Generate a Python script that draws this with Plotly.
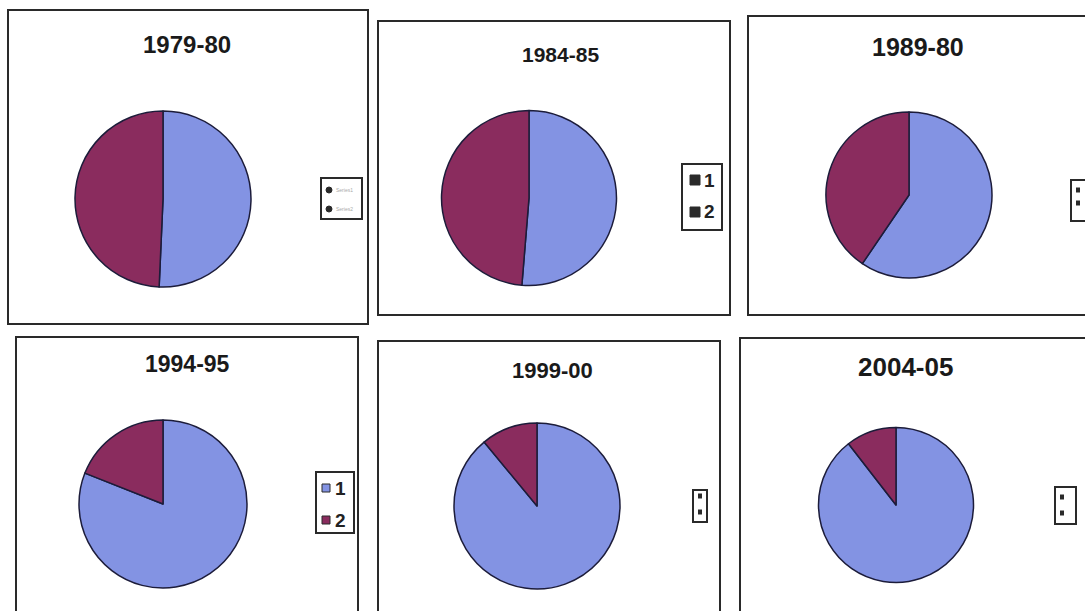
import plotly.graph_objects as go

W, H = 1085, 611

# ---- data ----
years = ["1979-80", "1984-85", "1989-90", "1994-95", "1999-00", "2004-05"]
title_text = ["1979-80", "1984-85", "1989-80", "1994-95", "1999-00", "2004-05"]
labels = ["1", "2"]
series1 = [50.7, 51.3, 59.5, 81.0, 89.0, 89.5]
series2 = [49.3, 48.7, 40.5, 19.0, 11.0, 10.5]

# ---- layout constants (pixels) ----
pie_centers = [(163, 199), (529, 198), (909, 195), (163, 504), (537, 506), (896, 505)]
pie_diams = [176, 175, 166, 168, 166, 155]
title_pos = [(187, 44), (560, 54), (918, 47), (187, 364), (552, 370), (905, 367)]
title_size = [24, 21, 25, 23, 22, 26]
panels = [(8, 10, 368, 324), (378, 21, 730, 315), (748, 16, 1092, 315),
          (16, 337, 358, 620), (378, 341, 720, 620), (740, 338, 1092, 620)]
# legend boxes (x0, y0, x1, y1), key style, item rows
legend_boxes = [(321, 178, 362, 219), (682, 164, 722, 230), (1071, 180, 1092, 221),
                (316, 472, 354, 533), (693, 490, 707, 522), (1055, 487, 1076, 524)]
legend_style = ["tiny", "big", "dots", "big", "dots", "dots"]
legend_rows = [(190, 209), (180, 212), (190, 203), (488, 520), (496, 512), (497, 513)]
legend_keyx = [329, 695, 1078, 326, 700, 1062]

BLUE = "#8393E3"
MAROON = "#8A2C5E"
EDGE = "#1c1c3a"
DARK = "#2a2a2a"

def px(x):
    return x / W

def py(y):
    return 1 - y / H

fig = go.Figure()
for i, yr in enumerate(years):
    cx, cy = pie_centers[i]
    r = pie_diams[i] / 2
    fig.add_trace(go.Pie(
        labels=labels,
        values=[series1[i], series2[i]],
        name=yr,
        sort=False,
        direction="clockwise",
        rotation=0,
        textinfo="none",
        hoverinfo="label+percent",
        showlegend=False,
        marker=dict(colors=[BLUE, MAROON], line=dict(color=EDGE, width=1.5)),
        domain=dict(x=[px(cx - r), px(cx + r)], y=[py(cy + r), py(cy - r)]),
    ))

shapes = []
for (x0, y0, x1, y1) in panels:
    shapes.append(dict(type="rect", xref="paper", yref="paper",
                       x0=px(x0), x1=px(x1), y0=py(y1), y1=py(y0),
                       line=dict(color=DARK, width=2), fillcolor="rgba(0,0,0,0)"))

annotations = []
for i, t in enumerate(title_text):
    tx, ty = title_pos[i]
    annotations.append(dict(text=f"<b>{t}</b>", x=px(tx), y=py(ty), xref="paper", yref="paper",
                            showarrow=False, xanchor="center", yanchor="middle",
                            font=dict(family="Liberation Sans Narrow, Liberation Sans, Arial",
                                      size=title_size[i], color="#1a1a1a")))

# legends (drawn as boxes with keys and real text labels)
key_colors = [BLUE, MAROON]
for i in range(6):
    x0, y0, x1, y1 = legend_boxes[i]
    shapes.append(dict(type="rect", xref="paper", yref="paper",
                       x0=px(x0), x1=px(x1), y0=py(y1), y1=py(y0),
                       line=dict(color=DARK, width=2), fillcolor="white"))
    style = legend_style[i]
    kx = legend_keyx[i]
    for j, ry in enumerate(legend_rows[i]):
        if style == "big":
            fill = key_colors[j] if i == 3 else DARK
            half = 4 if i == 3 else 5
            shapes.append(dict(type="rect", xref="paper", yref="paper",
                               x0=px(kx - half), x1=px(kx + half),
                               y0=py(ry + half), y1=py(ry - half),
                               line=dict(color=DARK, width=1), fillcolor=fill))
            annotations.append(dict(text=f"<b>{labels[j]}</b>", x=px(kx + 7), y=py(ry),
                                    xref="paper", yref="paper", showarrow=False,
                                    xanchor="left", yanchor="middle",
                                    font=dict(family="Liberation Sans, Arial", size=19,
                                              color="#222222")))
        elif style == "tiny":
            shapes.append(dict(type="circle", xref="paper", yref="paper",
                               x0=px(kx - 3), x1=px(kx + 3), y0=py(ry + 3), y1=py(ry - 3),
                               line=dict(color=DARK, width=1), fillcolor=DARK))
            annotations.append(dict(text="Series" + labels[j], x=px(kx + 5), y=py(ry),
                                    xref="paper", yref="paper", showarrow=False,
                                    xanchor="left", yanchor="middle",
                                    font=dict(family="Liberation Sans, Arial", size=5,
                                              color="#aaaaaa")))
        else:
            shapes.append(dict(type="rect", xref="paper", yref="paper",
                               x0=px(kx - 2), x1=px(kx + 2), y0=py(ry + 2.5), y1=py(ry - 2.5),
                               line=dict(color=DARK, width=0), fillcolor=DARK))

fig.update_layout(
    width=W, height=H,
    margin=dict(l=0, r=0, t=0, b=0),
    paper_bgcolor="white", plot_bgcolor="white",
    showlegend=False,
    shapes=shapes,
    annotations=annotations,
)

fig.write_html("out.html")
